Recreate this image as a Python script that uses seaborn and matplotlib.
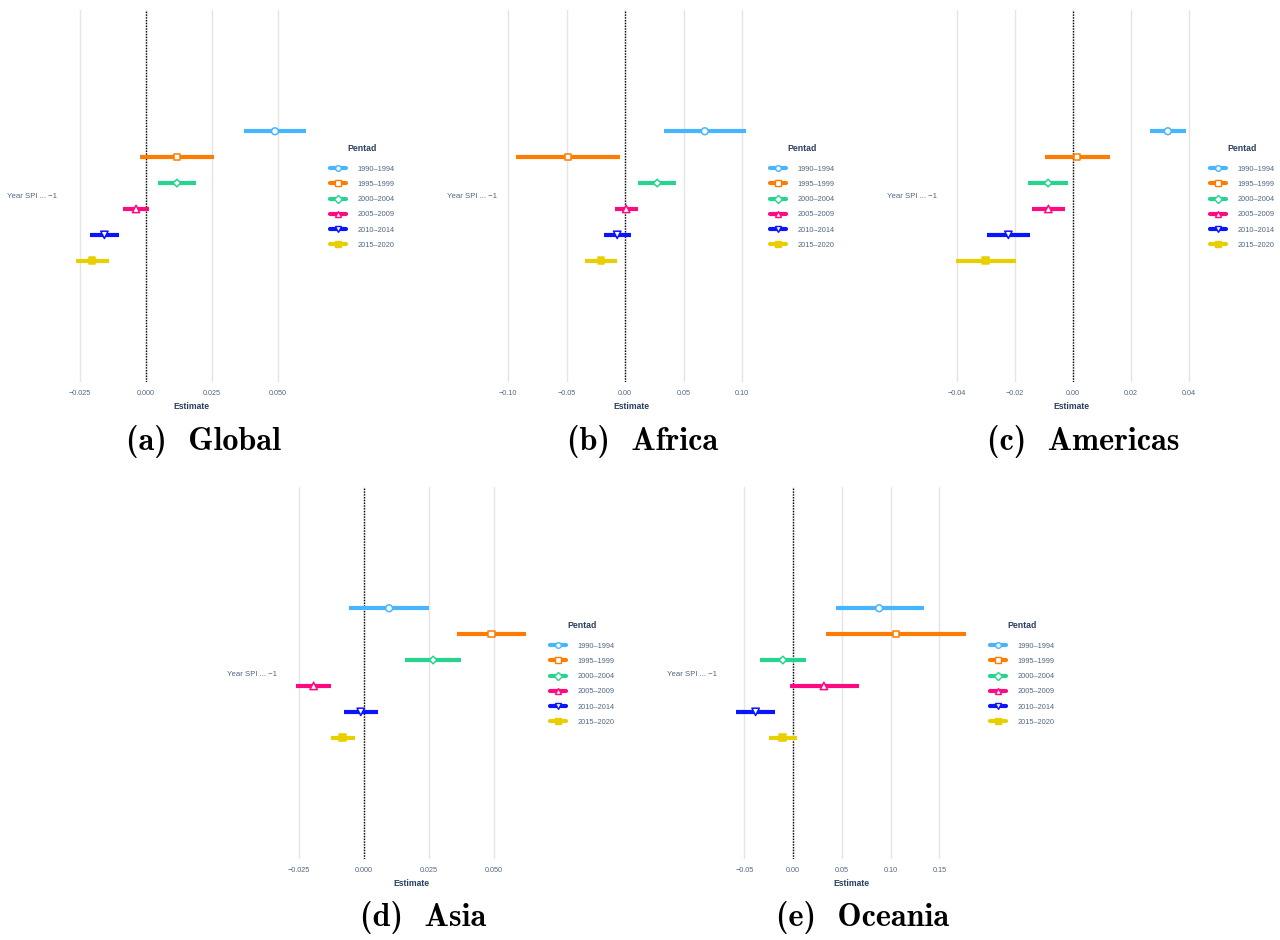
import os
import numpy as np
import pandas as pd
import seaborn as sns
import matplotlib as mpl
import matplotlib.pyplot as plt
from matplotlib.lines import Line2D
from matplotlib.font_manager import FontProperties

pentads = ['1990–1994', '1995–1999', '2000–2004', '2005–2009', '2010–2014', '2015–2020']
colors = ['#47b5ff', '#ff7c00', '#25d58e', '#ff0a80', '#0a14ff', '#e8cf00']
markers = ['o', 's', 'D', '^', 'v', 's']
filled = [False, False, False, False, False, True]

regions = ['Global', 'Africa', 'Americas', 'Asia', 'Oceania']
letters = ['a', 'b', 'c', 'd', 'e']

# point estimates and interval ends, one list per region (pentad order)
est = {
  'Global':   [0.0489, 0.0117, 0.0117, -0.0038, -0.0158, -0.0205],
  'Africa':   [0.0681, -0.0490, 0.0274, 0.0009, -0.0068, -0.0208],
  'Americas': [0.0328, 0.0014, -0.0085, -0.0084, -0.0222, -0.0301],
  'Asia':     [0.0097, 0.0490, 0.0266, -0.0193, -0.0012, -0.0082],
  'Oceania':  [0.0882, 0.1053, -0.0106, 0.0315, -0.0386, -0.0109],
}
lower = {
  'Global':   [0.0372, -0.0023, 0.0045, -0.0086, -0.0212, -0.0265],
  'Africa':   [0.0331, -0.0932, 0.0111, -0.0085, -0.0180, -0.0344],
  'Americas': [0.0267, -0.0097, -0.0155, -0.0142, -0.0297, -0.0402],
  'Asia':     [-0.0056, 0.0358, 0.0159, -0.0260, -0.0077, -0.0126],
  'Oceania':  [0.0435, 0.0339, -0.0338, -0.0031, -0.0585, -0.0246],
}
upper = {
  'Global':   [0.0606, 0.0256, 0.0188, 0.0011, -0.0102, -0.0140],
  'Africa':   [0.1032, -0.0045, 0.0436, 0.0106, 0.0046, -0.0074],
  'Americas': [0.0390, 0.0127, -0.0015, -0.0026, -0.0147, -0.0197],
  'Asia':     [0.0250, 0.0622, 0.0374, -0.0127, 0.0056, -0.0035],
  'Oceania':  [0.1337, 0.1771, 0.0130, 0.0671, -0.0185, 0.0035],
}
xticks = {
  'Global':   [-0.025, 0.0, 0.025, 0.05],
  'Africa':   [-0.10, -0.05, 0.0, 0.05, 0.10],
  'Americas': [-0.04, -0.02, 0.0, 0.02, 0.04],
  'Asia':     [-0.025, 0.0, 0.025, 0.05],
  'Oceania':  [-0.05, 0.0, 0.05, 0.10, 0.15],
}
tick_fmt = {'Global': '{:.3f}', 'Africa': '{:.2f}', 'Americas': '{:.2f}',
            'Asia': '{:.3f}', 'Oceania': '{:.2f}'}
term_label = 'Year SPI ... −1'

sns.set_theme(style='white')
plt.rcParams['font.family'] = ['Liberation Sans', 'DejaVu Sans']
title_col = '#2a3f5f'
tick_col = '#506784'

W, H = 1280, 940
fig = plt.figure(figsize=(W / 100, H / 100), dpi=100)

# panel origins in pixels (left of panel, top of plot area)
origins = {'Global': (0, 10), 'Africa': (440, 10), 'Americas': (880, 10),
           'Asia': (220, 487), 'Oceania': (660, 487)}

cm_path = os.path.join(mpl.get_data_path(), 'fonts', 'ttf', 'cmb10.ttf')
if os.path.exists(cm_path):
  cap_font = FontProperties(fname=cm_path, size=23.2)
else:
  cap_font = FontProperties(family='DejaVu Serif', weight='bold', size=19)

marker_sizes = [24, 20, 15, 28, 28, 22]

step = 25.9 / 372
pos = (np.arange(len(pentads)) - (len(pentads) - 1) / 2) * step

for reg, let in zip(regions, letters):
  x0, y0 = origins[reg]
  ax = fig.add_axes([(x0 + 67) / W, 1 - (y0 + 372) / H, 248 / W, 372 / H])

  df = pd.DataFrame({'pentad': pentads, 'est': est[reg], 'lo': lower[reg],
                     'hi': upper[reg], 'pos': pos})

  ax.hlines(df['pos'], df['lo'], df['hi'], colors=colors, lw=3, zorder=2)
  sns.scatterplot(data=df, x='est', y='pos', hue='pentad', style='pentad',
                  palette=dict(zip(pentads, colors)),
                  markers=dict(zip(pentads, markers)),
                  s=24, linewidth=1.1, legend=False, ax=ax, zorder=3)
  coll = ax.collections[-1]
  coll.set_facecolor([c if f else 'white' for c, f in zip(colors, filled)])
  coll.set_edgecolor(colors)
  coll.set_sizes(marker_sizes)

  ax.axvline(0, color='black', ls=(0, (1, 1)), lw=1, zorder=1)

  span = max(upper[reg]) - min(lower[reg])
  ax.set_xlim(min(lower[reg]) - 0.04 * span, max(upper[reg]) + 0.04 * span)
  ax.set_ylim(0.5, -0.5)
  ax.set_xticks(xticks[reg])
  ax.set_xticklabels([tick_fmt[reg].format(t).replace('-', '−') for t in xticks[reg]])
  ax.set_yticks([0])
  ax.set_yticklabels([term_label])
  ax.tick_params(axis='both', length=0, labelsize=5.2, labelcolor=tick_col)
  ax.tick_params(axis='y', labelsize=5.6, pad=7)
  ax.tick_params(axis='x', pad=5.5)
  ax.xaxis.grid(True, color='#e5e5e5', lw=1, zorder=0)
  ax.yaxis.grid(False)
  for sp in ax.spines.values():
    sp.set_visible(False)
  ax.set_xlabel('Estimate', fontsize=6.2, fontweight='bold', color=title_col,
                labelpad=4)
  ax.set_ylabel('')

  handles = [Line2D([0], [0], color=c, lw=3, marker=m, markersize=4,
                    markerfacecolor=(c if f else 'white'), markeredgecolor=c,
                    markeredgewidth=1.0)
             for c, m, f in zip(colors, markers, filled)]
  leg = ax.legend(handles, pentads, title='Pentad', loc='upper left',
                  bbox_to_anchor=((x0 + 330) / W, 1 - (y0 + 134) / H),
                  bbox_transform=fig.transFigure, frameon=False,
                  fontsize=5.3, title_fontsize=6.3, borderpad=0,
                  borderaxespad=0, handlelength=2.2, handletextpad=1.5,
                  labelspacing=1.1)
  leg.get_title().set_fontweight('bold')
  leg.get_title().set_color(title_col)
  for t in leg.get_texts():
    t.set_color(tick_col)
  leg._legend_box.sep = 9

  cap_y = 441 if y0 < 100 else 918
  fig.text((x0 + 203) / W, 1 - cap_y / H, f'({let})  {reg}',
           fontproperties=cap_font, ha='center', va='center', color='black')

fig.savefig('out.png', dpi=100)
